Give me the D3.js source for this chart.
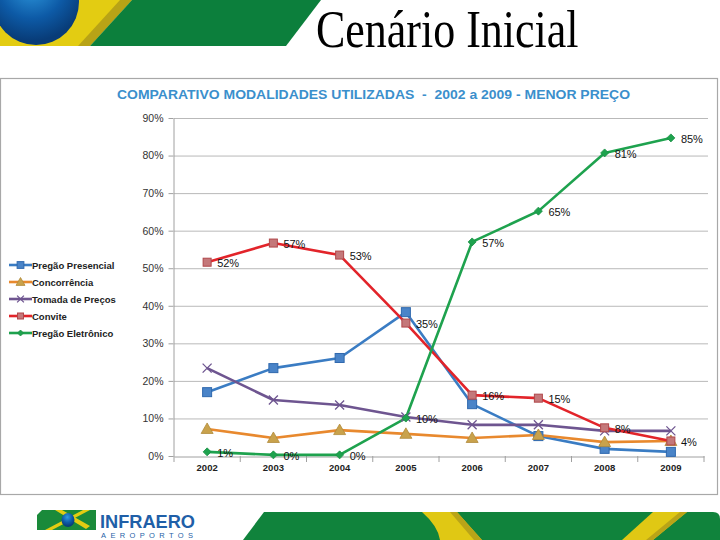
<!DOCTYPE html>
<html><head><meta charset="utf-8">
<script src="https://cdn.jsdelivr.net/npm/d3@7"></script>
<style>body{margin:0;background:#fff}svg{display:block}</style>
</head><body>
<svg id="c" width="720" height="540"></svg>
<script>
const years = ["2002","2003","2004","2005","2006","2007","2008","2009"];
const yTicks = [0,10,20,30,40,50,60,70,80,90];
const pregaoPresencial = [17.0,23.4,26.1,38.3,13.8,5.3,1.9,1.1];
const concorrencia     = [7.2,4.8,6.9,5.9,4.8,5.6,3.7,4.0];
const tomadaPrecos     = [23.4,14.9,13.6,10.4,8.3,8.3,6.7,6.7];
const convite          = [51.6,56.7,53.5,35.4,16.2,15.4,7.5,4.0];
const pregaoEletronico = [1.1,0.3,0.3,10.1,57.0,65.2,80.7,84.7];
const conviteLabels    = ["52%","57%","53%","35%","16%","15%","8%","4%"];
const eletronicoLabels = ["1%","0%","0%","10%","57%","65%","81%","85%"];
const seriesNames = ["Pregão Presencial","Concorrência","Tomada de Preços","Convite","Pregão Eletrônico"];

const series = [
  {name:seriesNames[0], values:pregaoPresencial, color:"#3a7cc3", marker:"square", size:9, fill:"#4a84c8", stroke:"#2f68ad"},
  {name:seriesNames[1], values:concorrencia, color:"#e8892e", marker:"triangle", size:10, fill:"#c9a24c", stroke:"#b08a3a"},
  {name:seriesNames[2], values:tomadaPrecos, color:"#6e5590", marker:"x", size:9, fill:"none", stroke:"#6e5590"},
  {name:seriesNames[3], values:convite, color:"#e2242a", marker:"square", size:8, fill:"#c4787a", stroke:"#b0474a", labels:conviteLabels},
  {name:seriesNames[4], values:pregaoEletronico, color:"#1ea24e", marker:"diamond", size:8, fill:"#1ea24e", stroke:"#1a9045", labels:eletronicoLabels}
];

const svg = d3.select("#c");

// ---------- header decoration ----------
const defs = svg.append("defs");
const rg = defs.append("radialGradient").attr("id","bg").attr("cx","45%").attr("cy","30%").attr("r","65%");
rg.append("stop").attr("offset","0%").attr("stop-color","#2f9be0");
rg.append("stop").attr("offset","60%").attr("stop-color","#0d5aa6");
rg.append("stop").attr("offset","100%").attr("stop-color","#083c78");

svg.append("path").attr("d","M0,0 L132,0 L90,46 L0,46 Z").attr("fill","#e3cc12");
svg.append("path").attr("d","M120,0 L132,0 L90,46 L78,46 Z").attr("fill","#b8a316");
svg.append("path").attr("d","M132,0 L321,0 L286,46 L90,46 Z").attr("fill","#0c7f3c");
svg.append("circle").attr("cx",36).attr("cy",2).attr("r",43).attr("fill","url(#bg)");

svg.append("text").attr("transform","translate(316,47) scale(1,1.2)")
  .attr("font-family","'Liberation Serif','Times New Roman',serif").attr("font-size",44)
  .attr("fill","#000").text("Cenário Inicial");

// chart frame
svg.append("rect").attr("x",0.5).attr("y",78.5).attr("width",717).attr("height",416)
  .attr("fill","none").attr("stroke","#a8a8a8").attr("stroke-width",1.2);

// ---------- chart ----------
const x = d3.scaleBand().domain(years).range([174,704]);
const y = d3.scaleLinear().domain([0,90]).range([456,118]);
const cx = d => x(d) + x.bandwidth()/2;

svg.append("text").attr("x",117).attr("y",99)
  .attr("font-family","Arial,'Liberation Sans',sans-serif").attr("font-weight","bold")
  .attr("font-size",13.2).attr("fill","#3b8fcc")
  .attr("textLength",513).attr("lengthAdjust","spacingAndGlyphs")
  .attr("xml:space","preserve")
  .text("COMPARATIVO MODALIDADES UTILIZADAS  -  2002 a 2009 - MENOR PREÇO");

// gridlines
svg.append("g").selectAll("line").data(yTicks.filter(t=>t>0)).join("line")
  .attr("x1",174).attr("x2",708).attr("y1",d=>y(d)+0.5).attr("y2",d=>y(d)+0.5)
  .attr("stroke","#b9b9b9").attr("stroke-width",1);

// y axis
const yAxis = d3.axisLeft(y).tickValues(yTicks).tickFormat(d=>d+"%").tickSize(5).tickSizeOuter(0);
const gy = svg.append("g").attr("transform","translate(173.5,0)").call(yAxis);
gy.select(".domain").attr("stroke","#a0a0a0");
gy.selectAll(".tick line").attr("stroke","#a0a0a0");
gy.selectAll(".tick text").attr("font-family","Arial,'Liberation Sans',sans-serif")
  .attr("font-size",10.5).attr("fill","#333").attr("x",-10);

// x axis
const xAxis = d3.axisBottom(x).tickSize(0).tickSizeOuter(0);
const gx = svg.append("g").attr("transform","translate(0,456.5)").call(xAxis);
gx.select(".domain").attr("stroke","#a0a0a0");
gx.selectAll(".tick text").attr("font-family","Arial,'Liberation Sans',sans-serif")
  .attr("font-size",9.5).attr("font-weight","bold").attr("fill","#222").attr("dy","1.25em");
// category separator ticks
svg.append("g").selectAll("line").data(years.concat(["end"])).join("line")
  .attr("x1",(d,i)=> i<years.length ? x(d) : x.range()[1])
  .attr("x2",(d,i)=> i<years.length ? x(d) : x.range()[1])
  .attr("y1",456).attr("y2",462).attr("stroke","#a0a0a0");

function drawMarker(g, type, s, fill, stroke) {
  if (type==="square") {
    g.append("rect").attr("x",-s/2).attr("y",-s/2).attr("width",s).attr("height",s)
      .attr("fill",fill).attr("stroke",stroke).attr("stroke-width",1);
  } else if (type==="triangle") {
    g.append("path").attr("d",`M0,${-s*0.6} L${s*0.6},${s*0.45} L${-s*0.6},${s*0.45} Z`)
      .attr("fill",fill).attr("stroke",stroke).attr("stroke-width",0.8);
  } else if (type==="x") {
    const h=s/2;
    g.append("path").attr("d",`M${-h},${-h} L${h},${h} M${-h},${h} L${h},${-h}`)
      .attr("stroke",stroke).attr("stroke-width",1.3).attr("fill","none");
  } else if (type==="diamond") {
    const h=s/2;
    g.append("path").attr("d",`M0,${-h} L${h},0 L0,${h} L${-h},0 Z`)
      .attr("fill",fill).attr("stroke",stroke).attr("stroke-width",0.8);
  }
}

const line = d3.line().x((d,i)=>cx(years[i])).y(d=>y(d));
series.forEach(s => {
  svg.append("path").datum(s.values).attr("d",line)
    .attr("fill","none").attr("stroke",s.color).attr("stroke-width",2.6).attr("stroke-linejoin","round");
});
series.forEach(s => {
  s.values.forEach((v,i) => {
    const g = svg.append("g").attr("transform",`translate(${cx(years[i])},${y(v)})`);
    drawMarker(g, s.marker, s.size, s.fill, s.stroke);
  });
});
// data labels
series.filter(s=>s.labels).forEach(s => {
  svg.append("g").selectAll("text").data(s.values).join("text")
    .attr("x",(d,i)=>cx(years[i])+10).attr("y",d=>y(d)+5)
    .attr("font-family","Arial,'Liberation Sans',sans-serif").attr("font-size",11)
    .attr("fill","#111").text((d,i)=>s.labels[i]);
});

// legend
const lg = svg.append("g");
series.forEach((s,i) => {
  const yy = 265 + i*17;
  lg.append("line").attr("x1",9).attr("x2",32).attr("y1",yy).attr("y2",yy)
    .attr("stroke",s.color).attr("stroke-width",2.6);
  const g = lg.append("g").attr("transform",`translate(20.5,${yy})`);
  drawMarker(g, s.marker, s.size*0.75, s.fill, s.stroke);
  lg.append("text").attr("x",32).attr("y",yy+3.5)
    .attr("font-family","Arial,'Liberation Sans',sans-serif").attr("font-weight","bold")
    .attr("font-size",9.5).attr("fill","#222").text(s.name);
});

// ---------- footer ----------
svg.append("path").attr("d","M42,510 L96,510 L96,530 L37,530 L37,515 Z").attr("fill","#1a8a3a");
svg.append("path").attr("d","M45,530 L52,530 L90,510 L83,510 Z").attr("fill","#e3cc12");
svg.append("path").attr("d","M55,510 L62,510 L90,526 L86,529 Z").attr("fill","#e3cc12");
svg.append("ellipse").attr("cx",68).attr("cy",520).attr("rx",6.5).attr("ry",7).attr("fill","url(#bg)");
svg.append("text").attr("x",100).attr("y",528)
  .attr("font-family","'Liberation Sans Narrow','Liberation Sans',Arial,sans-serif").attr("font-weight","bold")
  .attr("font-size",18).attr("fill","#1f5fa8").attr("textLength",95).attr("lengthAdjust","spacingAndGlyphs")
  .text("INFRAERO");
svg.append("text").attr("x",101).attr("y",537.5)
  .attr("font-family","Arial,'Liberation Sans',sans-serif")
  .attr("font-size",7.5).attr("fill","#1f5fa8").attr("textLength",92).attr("lengthAdjust","spacing")
  .text("AEROPORTOS");

svg.append("path").attr("d","M264,512 L713,512 Q720,512 720,519 L720,540 L243,540 Z").attr("fill","#10833c");
svg.append("path").attr("d","M422,512 L457,512 L482,540 L440,540 Q438,526 422,512 Z").attr("fill","#e0c814");
svg.append("path").attr("d","M450,512 L457,512 L482,540 L474,540 Z").attr("fill","#b9a418");
svg.append("path").attr("d","M653,512 L687,512 L653,540 L622,540 Z").attr("fill","#e0c814");
svg.append("path").attr("d","M680,512 L687,512 L653,540 L646,540 Z").attr("fill","#b9a418");
</script>
</body></html>
